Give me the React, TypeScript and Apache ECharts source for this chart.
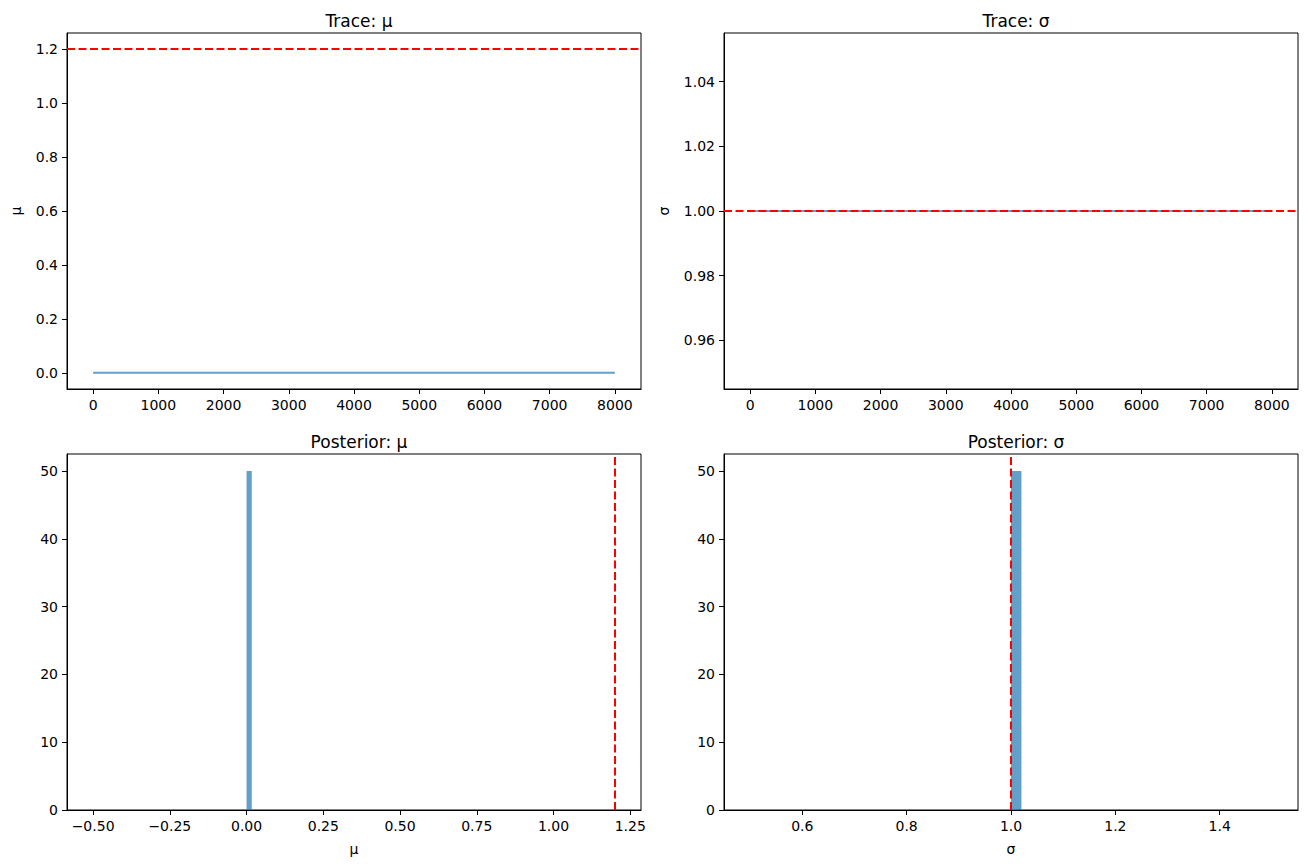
import React, { useRef, useEffect } from 'react';
import * as echarts from 'echarts';

// trace samples (chain is flat)
const iterations = [0, 8000];
const muTrace = [0, 0];
const sigmaTrace = [1, 1];
const muTrue = 1.2;
const sigmaTrue = 1.0;

// histogram bins: [start, end, density]
const muHist = [[0, 0.017, 50]];
const sigmaHist = [[1.0, 1.02, 50]];

const iterTicks = [0, 1000, 2000, 3000, 4000, 5000, 6000, 7000, 8000];
const muTraceTicks = [0, 0.2, 0.4, 0.6, 0.8, 1.0, 1.2];
const sigmaTraceTicks = [0.96, 0.98, 1.0, 1.02, 1.04];
const densityTicks = [0, 10, 20, 30, 40, 50];
const muHistTicks = [-0.5, -0.25, 0, 0.25, 0.5, 0.75, 1.0, 1.25];
const sigmaHistTicks = [0.6, 0.8, 1.0, 1.2, 1.4];

const FONT = 'DejaVu Sans';
const BLUE = 'rgba(31,119,180,0.7)';
const RED = '#ff0000';

const fix = (d: number) => (v: number) => v.toFixed(d).replace('-', '\u2212');

const grids = [
  { left: 67, top: 33, width: 574, height: 356 },
  { left: 724, top: 33, width: 574, height: 356 },
  { left: 67, top: 454, width: 574, height: 356 },
  { left: 724, top: 454, width: 574, height: 356 },
];

function axis(gridIndex: number, min: number, max: number, ticks: number[], fmt: (v: number) => string, extra: any = {}) {
  return {
    type: 'value',
    gridIndex,
    min,
    max,
    axisLine: { show: true, onZero: false, lineStyle: { color: '#000', width: 1 } },
    axisTick: { show: true, length: 5, customValues: ticks, lineStyle: { color: '#000', width: 1 } },
    axisLabel: { customValues: ticks, formatter: fmt, color: '#000', fontFamily: FONT, fontSize: 14, margin: 9 },
    splitLine: { show: false },
    nameTextStyle: { fontFamily: FONT, fontSize: 14, color: '#000' },
    ...extra,
  };
}

const dashed = (gridIndex: number, key: 'xAxis' | 'yAxis', value: number) => ({
  type: 'line',
  xAxisIndex: gridIndex,
  yAxisIndex: gridIndex,
  data: [],
  z: 5,
  markLine: {
    silent: true,
    symbol: 'none',
    label: { show: false },
    lineStyle: { color: RED, type: [8, 3.5], width: 2 },
    data: [{ [key]: value }],
  },
});

const histSeries = (gridIndex: number, bins: number[][]) => ({
  type: 'custom',
  xAxisIndex: gridIndex,
  yAxisIndex: gridIndex,
  encode: { x: [0, 1], y: 2 },
  data: bins,
  renderItem: (_p: any, api: any) => {
    const a = api.coord([api.value(0), api.value(2)]);
    const b = api.coord([api.value(1), 0]);
    return {
      type: 'rect',
      shape: { x: a[0], y: a[1], width: b[0] - a[0], height: b[1] - a[1] },
      style: { fill: BLUE },
    };
  },
});

export default function App() {
  const chartRef = useRef<HTMLDivElement>(null);

  useEffect(() => {
    document.body.style.margin = '0';
    if (!chartRef.current) return;
    const chart = echarts.init(chartRef.current, undefined, { renderer: 'svg' });

    const titles = ['Trace: \u03bc', 'Trace: \u03c3', 'Posterior: \u03bc', 'Posterior: \u03c3'];

    const option: any = {
      animation: false,
      backgroundColor: '#fff',
      title: titles.map((t, i) => ({
        text: t,
        left: grids[i].left + grids[i].width / 2,
        top: grids[i].top - 26,
        textAlign: 'center',
        textStyle: { fontFamily: FONT, fontSize: 17, fontWeight: 'normal', color: '#000' },
      })),
      grid: grids.map((g) => ({ ...g, show: true, borderColor: '#000', borderWidth: 1, backgroundColor: 'transparent' })),
      xAxis: [
        axis(0, -400, 8400, iterTicks, fix(0)),
        axis(1, -400, 8400, iterTicks, fix(0)),
        axis(2, -0.585, 1.285, muHistTicks, fix(2), { name: '\u03bc', nameLocation: 'middle', nameGap: 32 }),
        axis(3, 0.45, 1.55, sigmaHistTicks, fix(1), { name: '\u03c3', nameLocation: 'middle', nameGap: 32 }),
      ],
      yAxis: [
        axis(0, -0.06, 1.26, muTraceTicks, fix(1), { name: '\u03bc', nameLocation: 'middle', nameGap: 44 }),
        axis(1, 0.945, 1.055, sigmaTraceTicks, fix(2), { name: '\u03c3', nameLocation: 'middle', nameGap: 53 }),
        axis(2, 0, 52.5, densityTicks, fix(0)),
        axis(3, 0, 52.5, densityTicks, fix(0)),
      ],
      series: [
        {
          type: 'line',
          xAxisIndex: 0,
          yAxisIndex: 0,
          data: iterations.map((x, i) => [x, muTrace[i]]),
          symbol: 'none',
          lineStyle: { color: BLUE, width: 2 },
        },
        dashed(0, 'yAxis', muTrue),
        {
          type: 'line',
          xAxisIndex: 1,
          yAxisIndex: 1,
          data: iterations.map((x, i) => [x, sigmaTrace[i]]),
          symbol: 'none',
          lineStyle: { color: BLUE, width: 2 },
        },
        dashed(1, 'yAxis', sigmaTrue),
        histSeries(2, muHist),
        dashed(2, 'xAxis', muTrue),
        histSeries(3, sigmaHist),
        dashed(3, 'xAxis', sigmaTrue),
      ],
    };

    chart.setOption(option);
    return () => chart.dispose();
  }, []);

  return <div ref={chartRef} style={{ width: 1308, height: 868 }} />;
}
